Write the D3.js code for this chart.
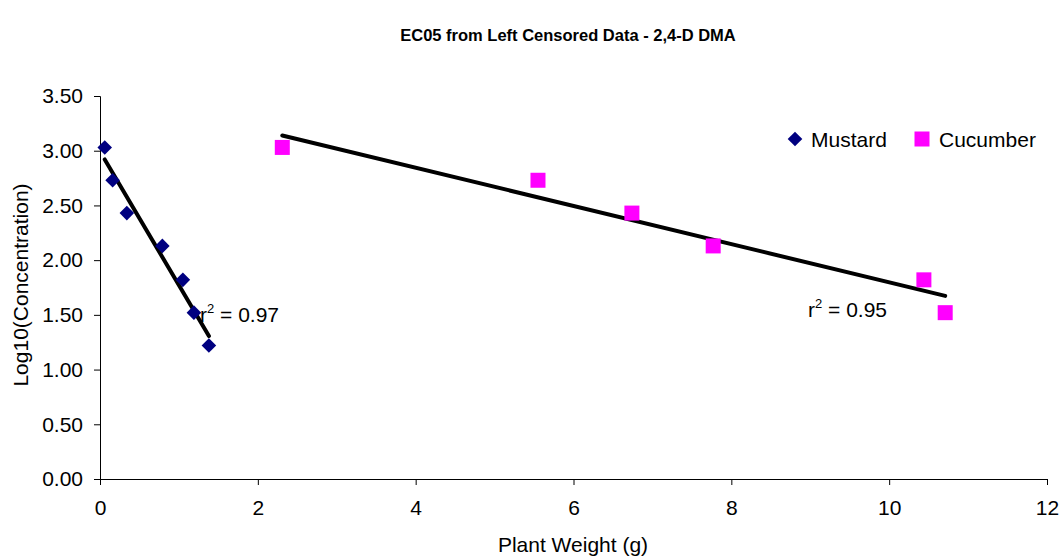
<!DOCTYPE html>
<html>
<head>
<meta charset="utf-8">
<script src="https://cdn.jsdelivr.net/npm/d3@7"></script>
<style>
  body { margin: 0; background: #fff; }
  svg text { font-family: "Liberation Sans", Arial, sans-serif; }
</style>
</head>
<body>
<div id="chart"></div>
<script>
const width = 1059, height = 556;
const margin = { top: 96, right: 12, bottom: 77, left: 100 };

// Data
const mustardWeight = [0.06, 0.16, 0.34, 0.79, 1.05, 1.19, 1.38];
const mustardLogConc = [3.03, 2.73, 2.43, 2.13, 1.82, 1.52, 1.22];
const cucumberWeight = [2.31, 5.55, 6.74, 7.77, 10.44, 10.71];
const cucumberLogConc = [3.03, 2.73, 2.43, 2.13, 1.82, 1.52];
const xTicks = [0, 2, 4, 6, 8, 10, 12];
const yTicks = [0, 0.5, 1, 1.5, 2, 2.5, 3, 3.5];
const r2Labels = ['0.97', '0.95'];

let svg = d3.select('#chart')
  .append('svg')
  .attr('width', width)
  .attr('height', height);

let x = d3.scaleLinear()
  .domain([0, 12])
  .range([margin.left, width - margin.right]);

let y = d3.scaleLinear()
  .domain([0, 3.5])
  .range([height - margin.bottom, margin.top]);

// axes
let xAxis = svg.append('g')
  .attr('transform', `translate(0, ${y(0)})`)
  .call(d3.axisBottom(x).tickValues(xTicks).tickFormat(d3.format('d')).tickSize(6).tickPadding(15));

let yAxis = svg.append('g')
  .attr('transform', `translate(${x(0)}, 0)`)
  .call(d3.axisLeft(y).tickValues(yTicks).tickFormat(d3.format('.2f')).tickSize(6).tickPadding(11));

[xAxis, yAxis].forEach(a => {
  a.select('.domain').attr('stroke', '#000').attr('stroke-width', 1);
  a.selectAll('.tick line').attr('stroke', '#000');
  a.selectAll('.tick text')
    .style('font-family', '"Liberation Sans", Arial, sans-serif')
    .style('font-size', '21px')
    .attr('fill', '#000');
});

// title + axis labels
svg.append('text')
  .attr('x', 568)
  .attr('y', 41)
  .style('text-anchor', 'middle')
  .style('font-size', '16.5px')
  .style('font-weight', 'bold')
  .text('EC05 from Left Censored Data - 2,4-D DMA');

svg.append('text')
  .attr('x', 573)
  .attr('y', 552)
  .style('text-anchor', 'middle')
  .style('font-size', '21px')
  .text('Plant Weight (g)');

svg.append('text')
  .attr('transform', `translate(28, 285) rotate(-90)`)
  .style('text-anchor', 'middle')
  .style('font-size', '21px')
  .text('Log10(Concentration)');

// least squares fit
function fit(xs, ys) {
  let mx = d3.mean(xs), my = d3.mean(ys);
  let sxy = d3.sum(xs, (v, i) => (v - mx) * (ys[i] - my));
  let sxx = d3.sum(xs, v => (v - mx) * (v - mx));
  let slope = sxy / sxx;
  return { slope: slope, intercept: my - slope * mx };
}

let series = [
  { name: 'Mustard', xs: mustardWeight, ys: mustardLogConc, color: '#000080', shape: 'diamond', r2: r2Labels[0] },
  { name: 'Cucumber', xs: cucumberWeight, ys: cucumberLogConc, color: '#FF00FF', shape: 'square', r2: r2Labels[1] }
];

let trendRef = svg.append('g');
let pointRef = svg.append('g');

series.forEach(s => {
  let f = fit(s.xs, s.ys);
  let x0 = d3.min(s.xs), x1 = d3.max(s.xs);
  trendRef.append('line')
    .attr('x1', x(x0)).attr('y1', y(f.intercept + f.slope * x0))
    .attr('x2', x(x1)).attr('y2', y(f.intercept + f.slope * x1))
    .attr('stroke', '#000')
    .attr('stroke-width', 4)
    .attr('stroke-linecap', 'round');
});

// markers
function marker(sel, s) {
  if (s.shape === 'diamond') {
    sel.append('path')
      .attr('d', 'M0,-7.3L7.3,0L0,7.3L-7.3,0Z')
      .attr('fill', s.color);
  } else {
    sel.append('rect')
      .attr('x', -7.5).attr('y', -7.5)
      .attr('width', 15).attr('height', 15)
      .attr('fill', s.color);
  }
}

series.forEach(s => {
  s.xs.forEach((v, i) => {
    let g = pointRef.append('g')
      .attr('transform', `translate(${x(v)}, ${y(s.ys[i])})`);
    marker(g, s);
  });
});

// r^2 labels
let r2Pos = [[200, 322], [808, 317]];
series.forEach((s, i) => {
  let t = svg.append('text')
    .attr('x', r2Pos[i][0])
    .attr('y', r2Pos[i][1])
    .style('font-size', '21px');
  t.append('tspan').text('r');
  t.append('tspan').attr('dy', -9).style('font-size', '13px').text('2');
  t.append('tspan').attr('dy', 9).text(' = ' + s.r2);
});

// legend
let legend = svg.append('g');
let legendPos = [795, 922];
series.forEach((s, i) => {
  let g = legend.append('g').attr('transform', `translate(${legendPos[i]}, 139)`);
  marker(g, s);
  g.append('text')
    .attr('x', s.name === 'Mustard' ? 16 : 17)
    .attr('y', 8)
    .style('font-size', '21px')
    .text(s.name);
});
</script>
</body>
</html>
